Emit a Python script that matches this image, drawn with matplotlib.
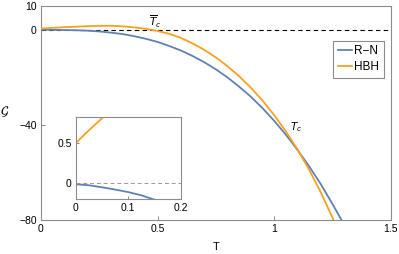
import matplotlib
matplotlib.use("Agg")
import matplotlib.pyplot as plt

# R-N curve
t_rn = [0, 0.025, 0.05, 0.075, 0.1, 0.125, 0.15, 0.2, 0.25, 0.3, 0.35, 0.4, 0.45, 0.5,
        0.55, 0.6, 0.65, 0.7, 0.75, 0.8, 0.85, 0.9, 0.95, 1.0, 1.05, 1.1, 1.15, 1.2,
        1.25, 1.3, 1.33]
g_rn = [-0.012, -0.025, -0.05, -0.078, -0.11, -0.15, -0.205, -0.38, -0.7, -1.2, -1.8,
        -2.7, -3.8, -5.1, -6.8, -8.7, -11.0, -13.6, -16.6, -20.0, -23.9, -28.1, -32.9,
        -38.2, -44.0, -50.4, -57.3, -64.8, -73.1, -81.8, -87.5]

# HBH curve
t_hbh = [0, 0.025, 0.05, 0.075, 0.1, 0.15, 0.2, 0.25, 0.3, 0.35, 0.4, 0.45, 0.5, 0.55,
         0.6, 0.65, 0.7, 0.75, 0.8, 0.85, 0.9, 0.95, 1.0, 1.05, 1.1, 1.15, 1.2, 1.25,
         1.3]
g_hbh = [0.5, 0.66, 0.81, 0.95, 1.08, 1.3, 1.5, 1.65, 1.68, 1.45, 1.0, 0.4, -0.5, -1.7,
         -3.4, -5.7, -8.4, -11.6, -15.3, -19.5, -24.3, -29.7, -35.8, -42.6, -50.2,
         -58.7, -68.2, -78.8, -90.6]

x_ticks = [0, 0.5, 1, 1.5]
x_labels = ["0", "0.5", "1", "1.5"]
y_ticks = [10, 0, -40, -80]
y_labels = ["10", "0", "\u221240", "\u221280"]
inset_x_ticks = [0, 0.1, 0.2]
inset_x_labels = ["0", "0.1", "0.2"]
inset_y_ticks = [0, 0.5]
inset_y_labels = ["0", "0.5"]

blue = "#5e81b5"
orange = "#f9a11b"
frame = "#8c8c8c"

plt.rcParams["font.family"] = ["Liberation Sans", "DejaVu Sans"]
plt.rcParams["mathtext.fontset"] = "dejavusans"

W, H = 399, 254
fig = plt.figure(figsize=(W / 100, H / 100), dpi=100)

# main axes
ax = fig.add_axes([41 / W, 1 - 220 / H, 349.5 / W, 214 / H])
ax.plot(t_rn, g_rn, color=blue, lw=1.3, label="R\u2212N", zorder=3)
ax.plot(t_hbh, g_hbh, color=orange, lw=1.3, label="HBH", zorder=3)
ax.axhline(0, color="black", lw=0.8, dashes=(4, 3), zorder=2)
ax.set_xlim(0, 1.5)
ax.set_ylim(-80, 10)
ax.set_xticks(x_ticks)
ax.set_xticklabels(x_labels)
ax.set_yticks(y_ticks)
ax.set_yticklabels(y_labels)
ax.tick_params(direction="in", length=3, width=0.7, color=frame, labelsize=7.5, pad=3)
for s in ax.spines.values():
    s.set_color(frame)
    s.set_linewidth(0.8)

ax.text(0.488, 3.4, r"$\overline{T}_c$", fontsize=7.5, ha="center", va="center")
ax.text(1.096, -41.1, r"$T_c$", fontsize=7.5, ha="center", va="center")

leg = ax.legend(loc="upper right", bbox_to_anchor=(0.981, 0.838), fontsize=8.5,
                fancybox=False, edgecolor=frame, framealpha=1, handlelength=1.25,
                handletextpad=0.15, borderpad=0.4, labelspacing=0.3, borderaxespad=0)
leg.get_frame().set_linewidth(0.8)

fig.text(216 / W, 1 - 247 / H, "T", fontsize=8, ha="center", va="center")
fig.text(5 / W, 1 - 112 / H, r"$\mathcal{G}$", fontsize=9, ha="center", va="center")

# inset
ins = fig.add_axes([75.7 / W, 1 - 199.3 / H, 105 / W, 82.6 / H])
ins.plot(t_rn, g_rn, color=blue, lw=1.3)
ins.plot(t_hbh, g_hbh, color=orange, lw=1.3)
ins.axhline(0, color="#999999", lw=0.7, dashes=(4, 3))
ins.set_xlim(0, 0.2)
ins.set_ylim(-0.2, 0.83)
ins.set_xticks(inset_x_ticks)
ins.set_xticklabels(inset_x_labels)
ins.set_yticks(inset_y_ticks)
ins.set_yticklabels(inset_y_labels)
ins.tick_params(direction="in", length=2.5, width=0.7, color=frame, labelsize=7.5, pad=3)
for s in ins.spines.values():
    s.set_color(frame)
    s.set_linewidth(0.8)

fig.savefig("out.png", dpi=100)
